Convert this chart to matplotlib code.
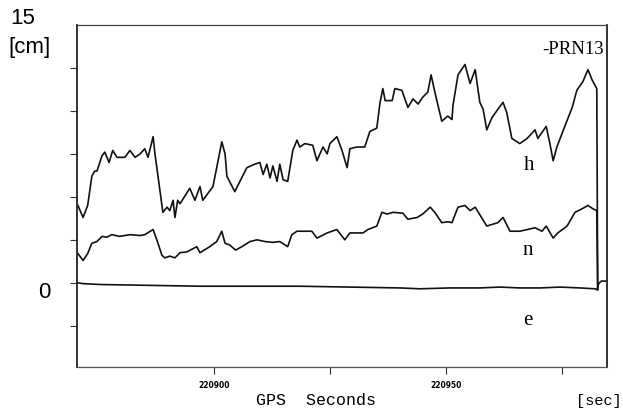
import matplotlib
matplotlib.use("Agg")
import matplotlib.pyplot as plt

# GPS epoch reference for the time axis
T0 = 220900

# Height component h [cm] vs. seconds after T0
h_t = [-29.3, -28.2, -27.2, -26.3, -25.7, -25.2, -24.1, -23.5, -22.6, -21.8, -20.9, -19.2,
       -18.1, -17.0, -15.9, -14.9, -14.2, -13.1, -12.7, -12.3, -11.0, -10.1, -9.5, -8.8,
       -8.4, -7.8, -7.3, -5.2, -4.1, -3.0, -2.4, -0.2, 1.7, 2.4, 2.8, 4.5, 5.6, 7.1, 8.8,
       9.9, 10.6, 11.4, 12.1, 12.7, 13.6, 14.2, 14.9, 15.9, 17.0, 17.9, 18.5, 19.6, 21.3,
       22.2, 23.5, 24.4, 25.0, 26.5, 27.6, 28.7, 29.3, 30.8, 32.5, 33.6, 35.1, 35.8, 36.4,
       36.9, 38.4, 39.0, 40.5, 41.8, 42.9, 44.0, 45.0, 46.1, 46.8, 47.6, 49.1, 50.4, 51.3,
       51.5, 52.6, 54.1, 55.2, 56.3, 57.3, 58.0, 58.8, 59.9, 61.2, 62.3, 63.1, 64.2, 65.9,
       67.5, 69.2, 69.8, 71.6, 72.4, 73.1, 73.9, 75.6, 77.2, 78.2, 79.5, 80.6, 81.5, 82.1,
       82.5, 82.7]
h_cm = [4.5, 3.8, 4.5, 6.2, 6.5, 6.5, 7.4, 7.6, 7.0, 7.7, 7.3, 7.3,
        7.7, 7.3, 7.5, 7.8, 7.3, 8.5, 7.5, 6.7, 4.1, 4.4, 4.2, 4.8,
        3.8, 4.8, 4.6, 5.5, 4.8, 5.6, 4.8, 5.6, 8.2, 7.5, 6.2, 5.3, 5.9, 6.7, 6.9,
        7.0, 6.3, 6.9, 6.1, 6.8, 5.9, 6.9, 6.0, 5.9, 7.7, 8.3, 7.9, 8.1, 8.0,
        7.1, 7.9, 7.5, 8.1, 8.5, 7.7, 6.7, 7.8, 7.9, 7.9, 8.8, 9.0, 10.5, 11.3,
        10.6, 10.6, 11.3, 11.2, 10.2, 10.7, 10.4, 10.8, 11.1, 12.1, 11.1, 9.4, 9.7, 9.5,
        10.3, 12.1, 12.7, 11.6, 12.4, 10.5, 10.1, 8.9, 9.6, 10.1, 10.5, 9.9, 8.4, 8.1,
        8.4, 8.9, 8.4, 9.1, 8.1, 7.1, 7.9, 9.1, 10.2, 11.2, 11.7, 12.4, 11.8, 11.5,
        11.3, -0.4]

# North component n [cm]
n_t = [-29.3, -28.2, -27.2, -26.3, -25.2, -24.1, -23.1, -22.0, -20.3, -18.1, -15.9, -14.9,
       -13.1, -12.3, -11.2, -10.6, -9.5, -8.4, -7.3, -5.8, -3.7, -3.0, -0.9, 0.6, 1.7,
       2.4, 3.4, 4.7, 6.0, 7.8, 9.3, 11.0, 12.7, 14.2, 15.9, 16.8, 17.9, 21.1, 22.2, 24.4,
       26.5, 28.2, 29.3, 32.1, 33.2, 35.1, 36.2, 37.3, 38.6, 40.7, 41.8, 43.8, 45.0, 46.6,
       47.6, 49.1, 50.4, 51.3, 52.6, 54.1, 55.2, 56.3, 58.8, 61.2, 62.3, 63.8, 65.9, 69.2,
       70.7, 71.6, 73.1, 74.1, 76.1, 77.8, 79.3, 80.6, 81.7, 82.5, 82.7]
n_cm = [1.7, 1.3, 1.7, 2.3, 2.4, 2.7, 2.65, 2.8, 2.7, 2.8, 2.75, 2.8,
        3.1, 2.5, 1.6, 1.45, 1.55, 1.45, 1.75, 1.8, 2.1, 1.75, 2.1, 2.4, 3.0,
        2.3, 2.2, 1.9, 2.1, 2.4, 2.5, 2.4, 2.35, 2.4, 2.1, 2.8, 3.0, 3.0, 2.6, 2.9,
        3.1, 2.5, 2.9, 2.9, 3.1, 3.3, 4.1, 4.0, 4.1, 4.05, 3.7, 3.8, 4.0, 4.4,
        4.1, 3.5, 3.55, 3.5, 4.4, 4.5, 4.2, 4.4, 3.3, 3.5, 3.8, 3.0, 3.0, 3.2,
        3.0, 3.3, 2.6, 2.9, 3.3, 4.1, 4.3, 4.5, 4.3, 4.2, -0.4]

# East component e [cm]
e_t = [-29.3, -28.2, -24.5, -13.8, -3.0, 7.8, 18.5, 29.3, 40.1, 44.4, 50.8, 57.3,
       61.6, 65.9, 70.3, 74.6, 78.9, 82.1, 82.6, 82.9, 83.5, 84.7]
e_cm = [0.0, -0.05, -0.1, -0.15, -0.2, -0.2, -0.2, -0.25, -0.3, -0.35, -0.3, -0.3,
        -0.25, -0.3, -0.3, -0.25, -0.3, -0.35, -0.4, -0.05, 0.1, 0.1]

x_ticks = [0, 25, 50, 75]
x_tick_labels = ["220900", "", "220950", ""]
y_ticks = [-2.5, 0, 2.5, 5, 7.5, 10, 12.5]

fig = plt.figure(figsize=(6.23, 4.09), dpi=100)
ax = fig.add_axes([0.1236, 0.1027, 0.8507, 0.8362])

line_kw = dict(color="#111111", lw=1.2)
ax.plot([T0 + t for t in h_t], h_cm, **line_kw)
ax.plot([T0 + t for t in n_t], n_cm, **line_kw)
ax.plot([T0 + t for t in e_t], e_cm, **line_kw)

ax.set_xlim(T0 - 29.5, T0 + 84.7)
ax.set_ylim(-4.9, 15)

ax.set_xticks([T0 + t for t in x_ticks])
ax.set_xticklabels(x_tick_labels, fontsize=5.5, fontweight="bold", family="DejaVu Sans")
ax.set_yticks(y_ticks)
ax.set_yticklabels([])
ax.tick_params(axis="both", direction="out", length=5, width=0.8, color="#333333")
ax.tick_params(axis="x", pad=5)

for side, lw, col in [("left", 1.3, "#222222"), ("right", 1.3, "#222222"),
                      ("top", 0.9, "#444444"), ("bottom", 0.9, "#555555")]:
    ax.spines[side].set_linewidth(lw)
    ax.spines[side].set_color(col)

# axis annotations
fig.text(0.016, 0.955, "15", fontsize=16, family="Liberation Sans", ha="left", va="center")
fig.text(0.013, 0.885, "[cm]", fontsize=16, family="Liberation Sans", ha="left", va="center")
fig.text(0.071, 0.286, "0", fontsize=16, family="Liberation Sans", ha="center", va="center")
fig.text(0.508, 0.020, "GPS  Seconds", fontsize=12, family="Liberation Mono", ha="center", va="center")
fig.text(0.997, 0.020, "[sec]", fontsize=11, family="Liberation Mono", ha="right", va="center")

# component labels
ax.text(T0 + 68.0, 6.8, "h", fontsize=15, family="Liberation Serif", ha="center", va="center")
ax.text(T0 + 67.6, 1.9, "n", fontsize=15, family="Liberation Serif", ha="center", va="center")
ax.text(T0 + 67.6, -2.2, "e", fontsize=15, family="Liberation Serif", ha="center", va="center")
ax.text(T0 + 84.0, 13.6, "-PRN13", fontsize=13.5, family="Liberation Serif", ha="right", va="center")

fig.savefig("out.png", dpi=100)
